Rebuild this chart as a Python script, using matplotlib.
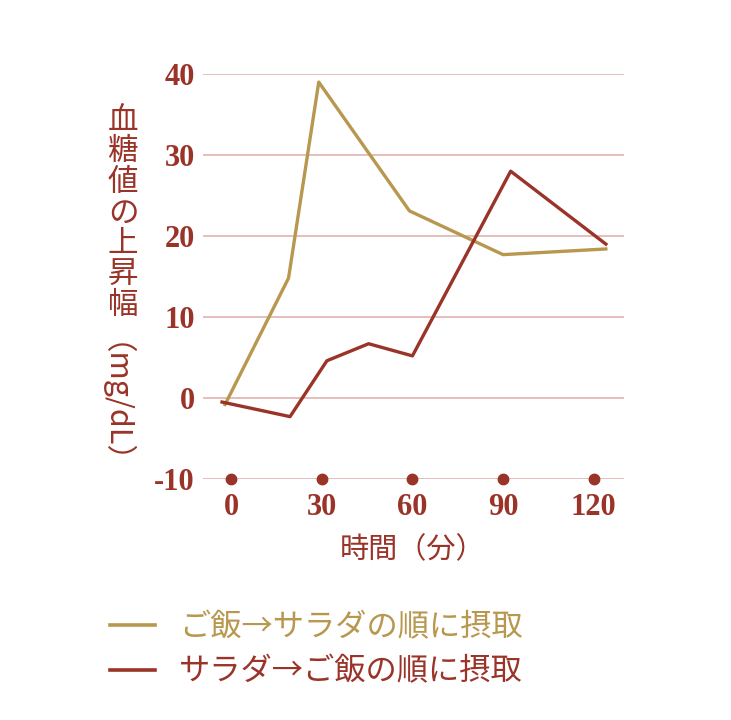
import matplotlib
matplotlib.use("Agg")
import matplotlib.pyplot as plt

# gold: rice first, then salad
gold_t = [-2, 19, 29, 59, 90, 124]
gold_v = [-0.8, 14.8, 39.0, 23.1, 17.7, 18.4]
# red: salad first, then rice
red_t = [-3, 19.5, 31.7, 45.5, 60, 92.5, 124]
red_v = [-0.5, -2.3, 4.6, 6.7, 5.2, 28.0, 19.0]

x_ticks = [0, 30, 60, 90, 120]
y_ticks = [-10, 0, 10, 20, 30, 40]
y_tick_labels = ["-10", "0", "10", "20", "30", "40"]

label_gold = "ご飯→サラダの順に摂取"
label_red = "サラダ→ご飯の順に摂取"
ylabel_chars = list("血糖値の上昇幅")
ylabel_unit = "（mg/dL）"
xlabel = "時間（分）"

RED = "#9a3328"
GOLD = "#b8974f"
GRID = "#dcaeaa"
JP = ["Noto Sans CJK JP", "DejaVu Sans"]
NUM = ["Liberation Serif", "DejaVu Serif"]

fig = plt.figure(figsize=(7.31, 7.20), dpi=100)
ax = fig.add_axes([203 / 731, 1 - 479 / 720, (624 - 203) / 731, (479 - 74) / 720])
ax.set_xlim(-9.3, 130)
ax.set_ylim(-10, 40)

for y in y_ticks:
    ax.axhline(y, color=GRID, lw=1.1, zorder=1)

ax.plot(gold_t, gold_v, color=GOLD, lw=2.4, label=label_gold, zorder=3)
ax.plot(red_t, red_v, color=RED, lw=2.4, label=label_red, zorder=3)
ax.plot(x_ticks, [-10] * len(x_ticks), "o", color=RED, ms=7.5, clip_on=False, zorder=4)

for s in ax.spines.values():
    s.set_visible(False)
ax.tick_params(length=0)
ax.set_xticks(x_ticks)
ax.set_xticklabels([str(t) for t in x_ticks], family=NUM, weight="bold", fontsize=22, color=RED)
ax.set_yticks(y_ticks)
ax.set_yticklabels(y_tick_labels, family=NUM, weight="bold", fontsize=22, color=RED)
ax.tick_params(axis="x", pad=10)
ax.tick_params(axis="y", pad=6)

ax.text(60, -18.8, xlabel, ha="center", va="center",
        family=JP, fontsize=21, color=RED)

# vertical y label
for i, ch in enumerate(ylabel_chars):
    fig.text(123 / 731, 1 - (121 + 30.7 * i) / 720, ch, ha="center", va="center",
             family=JP, fontsize=22, color=RED)
fig.text(98 / 731, 1 - 419 / 720, ylabel_unit, ha="center", va="center",
         rotation=-90, family=JP, fontsize=22, color=RED)

leg = fig.legend(loc="upper left", bbox_to_anchor=(82 / 731, 1 - 583 / 720),
                 frameon=False, prop={"family": JP, "size": 22.5},
                 handlelength=1.45, handletextpad=0.75, labelspacing=0.4)
for txt, ln in zip(leg.get_texts(), leg.get_lines()):
    txt.set_color(ln.get_color())
    ln.set_linewidth(2.6)

fig.savefig("out.png", dpi=100)
